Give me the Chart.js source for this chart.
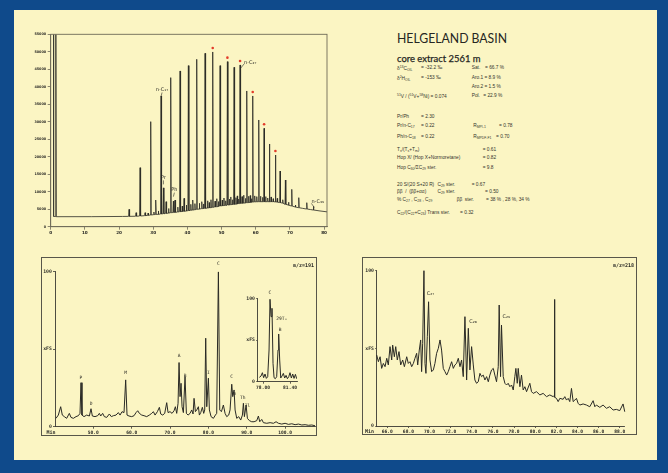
<!DOCTYPE html>
<html>
<head>
<meta charset="utf-8">
<script src="https://cdn.jsdelivr.net/npm/chart.js@4.4.1/dist/chart.umd.min.js"></script>
<style>
  html, body { margin: 0; padding: 0; width: 668px; height: 473px; overflow: hidden; background: #0f4a8b; }
  #sheet { position: absolute; left: 14px; top: 10px; width: 643px; height: 450px; background: #fbf5c3; }
  canvas { position: absolute; }
  .box { position: absolute; border: 1px solid #58564a; box-sizing: border-box; }
  .t { position: absolute; font-family: "Liberation Sans", Arial, sans-serif; font-size: 4.8px; color: #34342d; white-space: nowrap; line-height: 1; }
  .t sub { font-size: 3.4px; vertical-align: -1px; }
  .t sup { font-size: 3.4px; vertical-align: 1.6px; }
  #title { position: absolute; left: 397px; top: 32px; font-family: Lato, sans-serif; font-size: 13.5px; color: #262622; white-space: nowrap; line-height: 1; transform-origin: 0 0; }
  #subtitle { position: absolute; left: 397px; top: 54px; font-family: Lato, sans-serif; font-size: 9.5px; color: #26261f; white-space: nowrap; line-height: 1; transform-origin: 0 0; -webkit-text-stroke: 0.25px #26261f; }
</style>
</head>
<body>
<div id="sheet"></div>

<canvas id="tic" width="315" height="215" style="left:20px;top:25px"></canvas>

<div class="box" style="left:41px;top:257px;width:276px;height:179px"></div>
<canvas id="m191" width="276" height="179" style="left:41px;top:257px"></canvas>
<canvas id="m191inset" width="57" height="106" style="left:245px;top:286px"></canvas>

<div class="box" style="left:362px;top:257px;width:275px;height:178px"></div>
<canvas id="m218" width="275" height="178" style="left:362px;top:257px"></canvas>

<div id="title">HELGELAND BASIN</div>
<div id="subtitle">core extract 2561 m</div>

<div class="t" style="left:397px;top:66px">δ<sup>13</sup>C<sub>OIL</sub></div>
<div class="t" style="left:421px;top:66px">= -32.2 ‰</div>
<div class="t" style="left:471.7px;top:66px">Sat.</div>
<div class="t" style="left:485px;top:66px">= 66.7 %</div>

<div class="t" style="left:397px;top:76px">δ<sup>2</sup>H<sub>OIL</sub></div>
<div class="t" style="left:421px;top:76px">= -153 ‰</div>
<div class="t" style="left:471.7px;top:76px">Aro.1 =</div>
<div class="t" style="left:488.5px;top:76px">8.9 %</div>

<div class="t" style="left:471.7px;top:85px">Aro.2 =</div>
<div class="t" style="left:488.5px;top:85px">1.5 %</div>

<div class="t" style="left:397px;top:94.4px"><sup>51</sup>V / (<sup>51</sup>V+<sup>58</sup>Ni) = 0.074</div>
<div class="t" style="left:471.7px;top:94.4px">Pol.</div>
<div class="t" style="left:483.3px;top:94.4px">= 22.9 %</div>

<div class="t" style="left:397px;top:115px">Pr/Ph</div>
<div class="t" style="left:421px;top:115px">= 2.30</div>
<div class="t" style="left:397px;top:124.4px">Pr/n-C<sub>17</sub></div>
<div class="t" style="left:421px;top:124.4px">= 0.22</div>
<div class="t" style="left:473.3px;top:124.4px">R<sub>MPI-1</sub></div>
<div class="t" style="left:499px;top:124.4px">= 0.78</div>
<div class="t" style="left:397px;top:135px">Ph/n-C<sub>18</sub></div>
<div class="t" style="left:421px;top:135px">= 0.22</div>
<div class="t" style="left:473.3px;top:135px">R<sub>MPDF-F1</sub></div>
<div class="t" style="left:496px;top:135px">= 0.70</div>

<div class="t" style="left:397px;top:147.7px">T<sub>s</sub>/(T<sub>s</sub>+T<sub>m</sub>)</div>
<div class="t" style="left:482.7px;top:147.7px">= 0.61</div>
<div class="t" style="left:397px;top:156px">Hop X/ (Hop X+Normoretane)</div>
<div class="t" style="left:482.7px;top:156px">= 0.82</div>
<div class="t" style="left:397px;top:166px">Hop C<sub>30</sub>/ΣC<sub>29</sub> ster.</div>
<div class="t" style="left:482.7px;top:166px">= 9.8</div>

<div class="t" style="left:397px;top:182.7px">20 S/(20 S+20 R)</div>
<div class="t" style="left:437.5px;top:182.7px">C<sub>29</sub> ster.</div>
<div class="t" style="left:471.7px;top:182.7px">= 0.67</div>
<div class="t" style="left:397px;top:190px">ββ &nbsp;/ &nbsp;(ββ+αα)</div>
<div class="t" style="left:437.5px;top:190px">C<sub>29</sub> ster.</div>
<div class="t" style="left:485px;top:190px">= 0.50</div>
<div class="t" style="left:397px;top:197.7px">% C<sub>27</sub> , C<sub>28</sub> , C<sub>29</sub></div>
<div class="t" style="left:456.7px;top:197.7px">ββ &nbsp;ster.</div>
<div class="t" style="left:486px;top:197.7px">= 38 % , 28 %, 34 %</div>

<div class="t" style="left:397px;top:211px">C<sub>22</sub>/(C<sub>22</sub>+C<sub>23</sub>) Trans ster.</div>
<div class="t" style="left:460px;top:211px">= 0.32</div>

<script>
// ---- Total ion chromatogram of the saturate fraction (retention time, detector response)
const TIC_TRACE = [
  [0.74,2960],[0.80,55000],[0.86,55000],[0.92,2960],
  [1.40,2900],[1.47,55000],[1.55,55000],[1.62,2860],
  [12.0,2870],[21.0,2930],
  [22.78,2955],[22.93,4957],[23.08,2960],
  [24.83,2990],[24.98,4004],[25.13,3000],
  [26.00,3050],[26.15,16873],[26.30,3060],
  [27.46,3150],[27.61,4004],[27.76,3160],
  [28.40,3250],[28.50,3900],[28.60,3260],
  [29.12,3340],[29.27,30029],[29.42,3340],
  [30.10,3450],[30.20,4200],[30.30,3450],
  [30.58,3500],[30.73,7626],[30.88,3500],
  [31.40,3550],[31.50,4500],[31.60,3560],
  [32.14,3620],[32.29,37369],[32.44,3620],
  [32.83,3700],[32.98,11100],[33.13,3700],
  [33.61,3800],[33.76,7150],[33.91,3800],
  [34.40,3900],[34.50,5200],[34.60,3900],
  [34.97,4000],[35.12,42613],[35.27,4000],
  [35.75,4050],[35.90,7300],[36.05,4050],
  [36.24,4100],[36.39,7626],[36.54,4100],
  [37.10,4200],[37.20,5600],[37.30,4200],
  [37.70,4290],[37.85,44519],[38.00,4290],
  [38.40,4350],[38.50,5900],[38.60,4350],
  [38.87,4400],[39.02,8103],[39.17,4400],
  [39.60,4500],[39.70,6200],[39.80,4500],
  [40.14,4580],[40.29,46044],[40.44,4580],
  [40.90,4700],[41.00,6400],[41.10,4700],
  [41.41,4750],[41.56,7626],[41.71,4750],
  [42.10,4850],[42.20,6600],[42.30,4850],
  [42.58,4960],[42.73,47856],[42.88,4960],
  [43.40,5050],[43.50,6700],[43.60,5050],
  [44.05,5150],[44.20,7150],[44.35,5150],
  [44.60,5200],[44.70,6500],[44.80,5200],
  [45.02,5240],[45.17,49572],[45.32,5240],
  [45.80,5350],[45.90,7400],[46.00,5350],
  [46.30,5400],[46.40,6900],[46.50,5400],
  [46.80,5450],[46.90,7700],[47.00,5450],
  [47.26,5530],[47.41,49953],[47.56,5530],
  [48.00,5650],[48.10,7300],[48.20,5650],
  [48.50,5700],[48.60,8000],[48.70,5700],
  [49.00,5800],[49.10,7200],[49.20,5800],
  [49.41,5910],[49.56,46044],[49.71,5910],
  [50.10,6000],[50.20,7600],[50.30,6000],
  [50.60,6050],[50.70,8200],[50.80,6050],
  [51.10,6100],[51.20,7400],[51.30,6100],
  [51.56,6200],[51.71,47188],[51.86,6200],
  [52.20,6250],[52.30,7900],[52.40,6250],
  [52.60,6300],[52.70,8500],[52.80,6300],
  [53.10,6350],[53.20,7700],[53.30,6350],
  [53.51,6390],[53.66,45568],[53.81,6390],
  [54.10,6450],[54.20,8300],[54.30,6450],
  [54.50,6500],[54.60,8800],[54.70,6500],
  [54.90,6600],[55.00,7900],[55.10,6600],
  [55.26,6670],[55.41,46235],[55.56,6670],
  [55.90,6700],[56.00,8600],[56.10,6700],
  [56.35,6750],[56.45,9000],[56.55,6750],
  [56.90,6800],[57.00,8100],[57.10,6800],
  [57.22,6860],[57.37,38799],[57.52,6860],
  [57.80,6900],[57.90,8700],[58.00,6900],
  [58.30,6950],[58.40,8900],[58.50,6950],
  [58.65,7000],[58.75,8000],[58.85,7000],
  [59.00,7050],[59.12,37369],[59.25,7050],
  [59.60,7100],[59.70,8800],[59.80,7100],
  [60.20,7120],[60.30,8600],[60.40,7120],
  [60.75,7150],[60.88,30506],[61.00,7150],
  [61.30,7150],[61.40,8700],[61.50,7150],
  [61.90,7150],[62.00,8400],[62.10,7150],
  [62.32,7150],[62.44,28122],[62.56,7150],
  [62.80,7150],[62.90,8600],[63.00,7150],
  [63.40,7150],[63.50,8200],[63.60,7150],
  [63.88,7150],[64.00,23642],[64.12,7150],
  [64.40,7150],[64.50,8500],[64.60,7150],
  [65.00,7150],[65.10,8000],[65.20,7150],
  [65.64,7100],[65.76,20496],[65.88,7100],
  [66.20,7050],[66.30,8100],[66.40,7000],
  [67.00,6900],[67.12,15920],[67.24,6880],
  [67.80,6750],[67.90,7700],[68.00,6700],
  [68.56,6400],[68.68,13346],[68.80,6390],
  [69.50,6200],[69.60,7000],[69.70,6150],
  [70.42,5920],[70.54,10677],[70.66,5900],
  [71.50,5650],[71.60,6200],[71.70,5620],
  [72.47,5440],[72.59,8294],[72.71,5430],
  [73.70,5250],
  [74.81,5060],[74.93,6864],[75.05,5050],
  [76.00,4900],
  [76.76,4780],[76.88,5800],[77.00,4770],
  [78.80,4500],[80.85,4250]
];
const TIC_X_TICKS = [0, 10, 20, 30, 40, 50, 60, 70, 80];
const TIC_Y_TICKS = [0, 5000, 10000, 15000, 20000, 25000, 30000, 35000, 40000, 45000, 50000, 55000];
// odd-carbon n-alkanes C23–C33 marked with a red dot
const STAR_RT   = [47.41, 51.71, 55.41, 59.12, 62.44, 65.76];
const STAR_APEX = [49953, 47188, 46235, 37369, 28122, 20496];
// annotated compounds: text, retention time, apex response
const TIC_LABEL_TEXT = ['n-C₁₇', 'Pr', 'Ph', 'n-C₂₇', 'n-C₃₉'];
const TIC_LABEL_RT   = [32.29, 32.98, 35.90, 55.41, 76.88];
const TIC_LABEL_APEX = [37369, 11100, 7300, 46235, 5800];

// ---- m/z 191 fragmentogram (terpanes), relative intensity in %
const M191_TRACE = [
  [40.26,5.4],[40.87,7.5],[41.48,12.9],[41.91,7.5],[42.43,6.5],[43.04,5.4],[43.74,8.6],[44.17,6.0],
  [44.78,5.4],[45.48,6.5],[46.09,7.1],[46.52,8.6],[46.78,28.4],[47.04,7.5],[47.57,6.5],[48.26,7.5],
  [48.96,6.9],[49.39,11.6],[49.74,6.9],[50.43,6.5],[51.13,7.1],[51.57,8.6],[51.91,6.9],[52.43,8.6],
  [52.87,6.5],[53.48,6.0],[54.17,8.2],[54.70,6.5],[55.22,7.1],[55.91,7.5],[56.52,9.1],[56.96,7.5],
  [57.48,9.7],[58.00,9.1],[58.43,30.2],[58.78,7.5],[59.30,6.9],[60.00,6.5],[60.61,7.1],[61.13,9.1],
  [61.57,10.3],[62.00,8.6],[62.61,7.5],[63.22,7.1],[63.91,6.5],[64.61,7.5],[65.22,8.6],[65.65,9.7],
  [66.09,7.5],[66.70,9.7],[67.22,12.5],[67.57,8.2],[68.09,7.5],[68.61,8.6],[69.13,15.5],[69.48,9.1],
  [70.00,9.7],[70.52,8.6],[71.04,10.3],[71.39,12.9],[71.74,8.6],[72.09,15.1],[72.35,41.4],[72.61,19.4],
  [72.87,28.0],[73.13,12.9],[73.48,9.1],[73.91,32.3],[74.26,8.6],[74.70,7.5],[75.22,8.6],[75.65,10.8],
  [76.00,8.2],[76.26,18.3],[76.61,9.7],[76.96,10.8],[77.39,12.9],[77.65,7.5],[78.00,9.1],[78.43,12.5],
  [78.78,8.6],[79.04,10.8],[79.30,57.1],[79.57,12.9],[80.00,31.3],[80.26,10.8],[80.70,6.5],[81.30,5.4],
  [81.83,7.5],[82.17,8.6],[82.61,100],[82.96,10.8],[83.39,9.7],[83.91,14.0],[84.35,8.6],[84.78,6.5],
  [85.30,7.5],[85.65,10.8],[86.09,27.4],[86.35,19.4],[86.70,23.7],[86.96,10.8],[87.39,5.4],[87.91,6.5],
  [88.43,4.3],[88.87,7.5],[89.13,15.1],[89.39,6.5],[89.83,14.0],[90.17,5.4],[90.70,3.9],[91.30,3.2],
  [91.91,3.2],[92.61,3.9],[93.04,6.9],[93.39,3.2],[93.91,4.7],[94.35,2.6],[95.22,2.2],[96.09,2.6],
  [96.96,2.2],[97.65,3.2],[98.26,2.2],[99.13,1.7],[100.00,2.2],[100.87,1.5],[101.74,1.9],[102.61,1.3],
  [103.48,1.7],[104.35,1.1],[105.22,1.3],[106.09,0.9],[106.96,1.1],[107.83,0.6]
];
const M191_X_TICKS = [50, 60, 70, 80, 90, 100];
const M191_LABEL_TEXT = ['P', 'D', 'M', 'A', 'B', 'I', 'C', 'C', 'm', 'Th', 'Tl'];
const M191_LABEL_RT   = [46.78, 49.39, 58.43, 72.35, 73.91, 80.00, 82.61, 86.09, 86.87, 88.96, 90.17];
const M191_LABEL_Y    = [31.3, 14.7, 34.5, 45.7, 32.8, 34.5, 105.2, 31.9, 21.1, 18.8, 13.6];

// ---- m/z 191 detail around the C30 hopane
const M191_INSET = [
  [77.54,5.2],[77.75,6.8],[77.92,10.8],[78.08,4.8],[78.25,9.2],[78.42,4.0],[78.59,6.0],[78.76,38],
  [78.88,98.8],[79.01,78],[79.13,88],[79.26,22],[79.39,4.8],[79.55,3.6],[79.72,6.0],[79.89,38],
  [79.97,57.2],[80.10,26],[80.23,4.4],[80.39,6.8],[80.56,10],[80.73,4.4],[80.90,7.6],[81.07,3.6],
  [81.24,6.0],[81.40,10.8],[81.57,4.4],[81.74,9.2],[81.91,4.0],[82.08,8.8],[82.24,3.6]
];
const INSET_X_TICKS = [78.0, 81.4];
const INSET_LABEL_TEXT = ['C', '29Tₛ', 'B'];
const INSET_LABEL_RT   = [78.88, 80.35, 80.15];
const INSET_LABEL_Y    = [107, 76, 62];

// ---- m/z 218 fragmentogram (steranes), relative intensity in %
const M218_TRACE = [
  [65.00,45.7],[65.16,41.4],[65.32,44.6],[65.47,37.1],[65.63,40.3],[65.79,38.2],[65.95,43.6],[66.10,39.3],
  [66.26,51.1],[66.42,42.5],[66.51,52.1],[66.67,44.6],[66.80,51.1],[66.95,42.5],[67.11,47.9],[67.27,39.3],
  [67.46,42.5],[67.62,38.2],[67.84,44.6],[67.99,40.3],[68.15,41.4],[68.31,38.2],[68.47,40.3],[68.62,43.6],
  [68.78,46.8],[68.88,39.3],[69.03,48.9],[69.16,55.4],[69.25,35.0],[69.35,53.2],[69.47,100],[69.57,40.3],
  [69.66,33.9],[69.79,57.5],[69.91,80.0],[70.04,42.5],[70.20,35.0],[70.36,36.1],[70.51,40.3],[70.67,46.8],
  [70.83,50.0],[70.99,55.4],[71.14,48.9],[71.30,37.1],[71.46,35.0],[71.62,32.8],[71.77,35.0],[71.93,38.2],
  [72.09,41.4],[72.25,37.1],[72.40,39.3],[72.56,40.3],[72.72,43.6],[72.88,38.2],[73.03,42.5],[73.19,31.8],
  [73.35,70.4],[73.51,29.6],[73.67,62.9],[73.82,36.1],[73.98,51.1],[74.14,39.3],[74.29,29.6],[74.45,27.5],
  [74.61,28.5],[74.77,33.9],[74.92,31.8],[75.08,32.8],[75.24,29.6],[75.40,31.8],[75.56,28.5],[75.71,32.8],
  [75.87,36.1],[76.03,37.1],[76.18,32.8],[76.34,28.5],[76.50,38.2],[76.59,77.9],[76.72,31.8],[76.81,65.0],
  [76.97,31.8],[77.13,27.5],[77.29,26.4],[77.44,27.5],[77.60,25.3],[77.76,26.4],[77.92,23.2],[78.07,31.8],
  [78.17,37.1],[78.30,27.5],[78.39,37.1],[78.55,25.3],[78.70,32.8],[78.86,23.2],[79.02,25.3],[79.18,22.1],
  [79.49,27.5],[79.65,22.1],[79.81,21.0],[80.12,22.1],[80.44,20.0],[80.75,21.0],[81.07,18.9],[81.38,20.0],
  [81.70,18.9],[81.78,19.5],[81.82,81.5],[81.86,18.5],[82.01,17.8],[82.17,15.7],[82.33,17.8],[82.64,17.2],
  [82.80,18.9],[82.96,16.7],[83.12,17.8],[83.27,15.7],[83.43,24.2],[83.59,15.7],[83.75,16.7],[83.90,17.8],
  [84.06,14.6],[84.22,13.5],[84.53,14.2],[84.85,13.5],[85.16,12.4],[85.48,16.3],[85.64,12.4],[85.79,13.5],
  [86.11,12.0],[86.42,13.5],[86.74,11.4],[87.05,12.4],[87.37,10.3],[87.68,10.7],[88.00,9.9],[88.31,14.2],
  [88.47,9.2],[88.79,8.6],[88.94,12.4],[89.10,8.6],[89.26,7.7]
];
const M218_X_TICKS = [66, 68, 70, 72, 74, 76, 78, 80, 82, 84, 86, 88];
const M218_LABEL_TEXT = ['C₂₇', 'C₂₈', 'C₂₉'];
const M218_LABEL_RT   = [69.73, 73.76, 76.91];
const M218_LABEL_Y    = [85.4, 67.2, 70.4];

// relative-intensity axis of the fragmentograms
const REL_Y_TICKS  = [0, 50, 100];
const REL_Y_LABELS = ['0', 'xFS', '100'];

// ---------------------------------------------------------------------------
Chart.defaults.animation = false;
Chart.defaults.font.family = "'DejaVu Sans', sans-serif";

const INK = '#2a2a25';
const AXIS = '#3a3932';
const MONO = "'DejaVu Sans Mono', monospace";

function toXY(pairs) { return pairs.map(([x, y]) => ({ x, y })); }

function fixedX(h) { return s => { s.height = h; s.paddingLeft = 0; s.paddingRight = 0; }; }
function fixedY(w) { return s => { s.width = w; s.paddingTop = 0; s.paddingBottom = 0; }; }
function useTicks(values) { return s => { s.ticks = values.map(v => ({ value: v })); }; }

function traceDataset(pairs, width, clip) {
  return {
    data: toXY(pairs), borderColor: INK, borderWidth: width, pointRadius: 0,
    tension: 0, fill: false, clip: clip
  };
}

function axisLook(color, tickLen) {
  return {
    grid: { display: true, drawOnChartArea: false, drawTicks: true, tickLength: tickLen, color: color, lineWidth: 0.8 },
    border: { display: true, color: color, width: 0.9 }
  };
}

// text anchored to data positions
function labelPlugin(id, texts, xs, ys, font, align, dy) {
  return {
    id,
    afterDatasetsDraw(chart) {
      const { ctx, scales } = chart;
      ctx.save();
      ctx.fillStyle = INK;
      ctx.font = font;
      ctx.textAlign = align;
      ctx.textBaseline = 'middle';
      texts.forEach((t, i) => {
        ctx.fillText(t, scales.x.getPixelForValue(xs[i]), scales.y.getPixelForValue(ys[i]) + (dy || 0));
      });
      ctx.restore();
    }
  };
}

// corner captions of the fragmentograms
function captionPlugin(id, ion, minDx) {
  return {
    id,
    afterDraw(chart) {
      const { ctx, chartArea, width } = chart;
      ctx.save();
      ctx.fillStyle = INK;
      ctx.font = 'bold 5px ' + MONO;
      ctx.textBaseline = 'middle';
      ctx.textAlign = 'right';
      ctx.fillText(ion, width - 3, 9);
      ctx.textAlign = 'left';
      ctx.fillText('Min', chartArea.left - minDx, chartArea.bottom + 6);
      ctx.restore();
    }
  };
}

// ---- TIC
new Chart(document.getElementById('tic'), {
  type: 'line',
  data: { datasets: [traceDataset(TIC_TRACE, 0.8, 0)] },
  options: {
    responsive: false,
    layout: { padding: { left: 0, top: 9.3, right: 8, bottom: 0 } },
    plugins: { legend: { display: false }, tooltip: { enabled: false } },
    scales: {
      x: Object.assign({
        type: 'linear', min: 0, max: 80.85,
        afterBuildTicks: useTicks(TIC_X_TICKS), afterFit: fixedX(13.3),
        ticks: { font: { size: 4.2, weight: 'bold' }, color: '#2d2d28', padding: 1, maxRotation: 0, autoSkip: false, callback: v => String(v) }
      }, axisLook('#6f6b58', 3)),
      y: Object.assign({
        type: 'linear', min: 0, max: 55000,
        afterBuildTicks: useTicks(TIC_Y_TICKS), afterFit: fixedY(30.7),
        ticks: { font: { size: 3.4, weight: 'bold' }, color: '#2d2d28', padding: 1.5, autoSkip: false, callback: v => String(v) }
      }, axisLook('#6f6b58', 3))
    }
  },
  plugins: [{
    id: 'ticDecor',
    afterDatasetsDraw(chart) {
      const { ctx, chartArea: a, scales } = chart;
      ctx.save();
      // plot frame
      ctx.strokeStyle = '#6f6b58';
      ctx.lineWidth = 0.9;
      ctx.strokeRect(a.left, a.top, a.right - a.left, a.bottom - a.top);
      // marked odd n-alkanes
      ctx.fillStyle = '#e23b2a';
      STAR_RT.forEach((rt, i) => {
        ctx.beginPath();
        ctx.arc(scales.x.getPixelForValue(rt), scales.y.getPixelForValue(STAR_APEX[i]) - 4, 1.3, 0, Math.PI * 2);
        ctx.fill();
      });
      // compound labels with pointer lines
      ctx.fillStyle = INK;
      ctx.strokeStyle = INK;
      ctx.lineWidth = 0.6;
      ctx.font = '5px "DejaVu Sans", sans-serif';
      ctx.textBaseline = 'bottom';
      const offsets = [[1, -4, 'center'], [0, -8, 'center'], [1, -9, 'center'], [4, 0, 'left'], [-2, -2, 'left']];
      TIC_LABEL_TEXT.forEach((t, i) => {
        const px = scales.x.getPixelForValue(TIC_LABEL_RT[i]);
        const py = scales.y.getPixelForValue(TIC_LABEL_APEX[i]);
        const [dx, dy, al] = offsets[i];
        ctx.textAlign = al;
        ctx.fillText(t, px + dx, py + dy);
        ctx.beginPath();
        if (al === 'center') {
          ctx.moveTo(px + dx, py + dy + 0.5);
          ctx.lineTo(px, py + dy + 4.5);
        } else {
          ctx.moveTo(px + dx, py + dy - 1);
          ctx.lineTo(px + 0.8, py + dy + 3);
        }
        ctx.stroke();
      });
      ctx.restore();
    }
  }]
});

// ---- m/z 191
function relYAxis(width, tickLen) {
  return Object.assign({
    type: 'linear', min: 0, max: 100,
    afterBuildTicks: useTicks(REL_Y_TICKS), afterFit: fixedY(width),
    ticks: {
      font: { family: MONO, size: 4.8, weight: 'bold' }, color: INK, padding: 1.2, autoSkip: false,
      callback: v => REL_Y_LABELS[REL_Y_TICKS.indexOf(v)]
    }
  }, axisLook(AXIS, tickLen));
}
function timeXAxis(min, max, ticks, height, digits) {
  return Object.assign({
    type: 'linear', min, max,
    afterBuildTicks: useTicks(ticks), afterFit: fixedX(height),
    ticks: {
      font: { family: MONO, size: 4.6, weight: 'bold' }, color: INK, padding: 1.2, maxRotation: 0, autoSkip: false,
      callback: v => Number(v).toFixed(digits)
    }
  }, axisLook(AXIS, 2));
}

new Chart(document.getElementById('m191'), {
  type: 'line',
  data: { datasets: [traceDataset(M191_TRACE, 1, 0)] },
  options: {
    responsive: false,
    layout: { padding: { left: 0, top: 14.7, right: 2, bottom: 0 } },
    plugins: { legend: { display: false }, tooltip: { enabled: false } },
    scales: { x: timeXAxis(40, 107.8, M191_X_TICKS, 9.3, 1), y: relYAxis(14, 2) }
  },
  plugins: [
    captionPlugin('m191cap', 'm/z=191', 8.5),
    labelPlugin('m191lab', M191_LABEL_TEXT, M191_LABEL_RT, M191_LABEL_Y, '4.6px ' + MONO, 'center', 0)
  ]
});

new Chart(document.getElementById('m191inset'), {
  type: 'line',
  data: { datasets: [traceDataset(M191_INSET, 1, 0)] },
  options: {
    responsive: false,
    layout: { padding: { left: 0, top: 12.3, right: 5, bottom: 0 } },
    plugins: { legend: { display: false }, tooltip: { enabled: false } },
    scales: { x: timeXAxis(77.33, 82.28, INSET_X_TICKS, 10.3, 2), y: relYAxis(12.7, 1.5) }
  },
  plugins: [labelPlugin('insetlab', INSET_LABEL_TEXT, INSET_LABEL_RT, INSET_LABEL_Y, '4.6px ' + MONO, 'center', 0)]
});

// ---- m/z 218
new Chart(document.getElementById('m218'), {
  type: 'line',
  data: { datasets: [traceDataset(M218_TRACE, 1, false)] },
  options: {
    responsive: false,
    layout: { padding: { left: 0, top: 13.7, right: 13, bottom: 0 } },
    plugins: { legend: { display: false }, tooltip: { enabled: false } },
    scales: { x: timeXAxis(65, 88.4, M218_X_TICKS, 9, 1), y: relYAxis(14.7, 1.5) }
  },
  plugins: [
    captionPlugin('m218cap', 'm/z=218', 11.7),
    labelPlugin('m218lab', M218_LABEL_TEXT, M218_LABEL_RT, M218_LABEL_Y, '5px "DejaVu Sans", sans-serif', 'left', 0)
  ]
});

// heading widths
function fitWidth(id, w) {
  const el = document.getElementById(id);
  const r = el.getBoundingClientRect().width;
  if (r > 0) el.style.transform = 'scaleX(' + (w / r) + ')';
}
fitWidth('title', 110);
fitWidth('subtitle', 83.5);
</script>
</body>
</html>
